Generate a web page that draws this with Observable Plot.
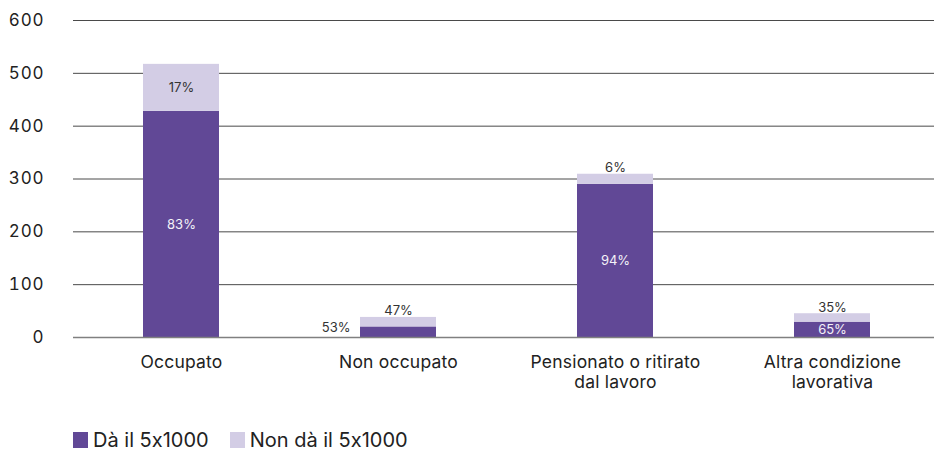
<!DOCTYPE html>
<html>
<head>
<meta charset="utf-8">
<script src="https://cdn.jsdelivr.net/npm/d3@7"></script>
<script src="https://cdn.jsdelivr.net/npm/@observablehq/plot@0.6"></script>
<style>
  body { margin: 0; background: #fff; font-family: Inter, "Noto Sans", sans-serif; color: #222; font-feature-settings: "calt" 0; }
  #chart svg { display: block; font-feature-settings: "calt" 0; }
  #chart g[aria-label="y-axis tick label"] text { letter-spacing: 0.9px; }
  #chart g[aria-label="x-axis tick label"] text { letter-spacing: 0.2px; }
  .legend { display: flex; align-items: center; margin-left: 73px; margin-top: 9px; font-size: 20px; line-height: 22px; color: #222; }
  .legend .item { display: flex; align-items: center; margin-right: 21px; }
  .legend .sw { width: 15px; height: 16px; margin-right: 5px; }
</style>
</head>
<body>
<div id="chart"></div>
<div class="legend" id="legend"></div>
<script>
const categories = ["Occupato", "Non occupato", "Pensionato o ritirato\ndal lavoro", "Altra condizione\nlavorativa"];
const daValues = [428, 20, 290, 29];
const nonDaValues = [89, 18, 19, 16];
const daPct = ["83%", "53%", "94%", "65%"];
const nonDaPct = ["17%", "47%", "6%", "35%"];
const seriesNames = ["Dà il 5x1000", "Non dà il 5x1000"];
const seriesColors = ["#614896", "#d3cde5"];
const yTicks = [0, 100, 200, 300, 400, 500, 600];

const rows = [];
categories.forEach((c, i) => {
  rows.push({cat: c, series: seriesNames[0], y1: 0, y2: daValues[i], value: daValues[i], label: daPct[i]});
  rows.push({cat: c, series: seriesNames[1], y1: daValues[i], y2: daValues[i] + nonDaValues[i], value: nonDaValues[i], label: nonDaPct[i]});
});
rows.forEach(r => r.mid = (r.y1 + r.y2) / 2);
const threshold = 25;
const inside = rows.filter(r => r.value >= threshold);
const above = rows.filter(r => r.value < threshold && r.series === seriesNames[1]);
const left = rows.filter(r => r.value < threshold && r.series === seriesNames[0]);

const chart = Plot.plot({
  width: 934,
  height: 420,
  marginLeft: 73,
  marginRight: 0,
  marginTop: 20,
  marginBottom: 83,
  style: {fontFamily: "Inter, 'Noto Sans', sans-serif", color: "#222", background: "#fff"},
  x: {domain: categories, range: [72.5, 940.5], paddingInner: 0.65, paddingOuter: 0.325, label: null},
  y: {domain: [0, 600], label: null},
  color: {domain: seriesNames, range: seriesColors},
  marks: [
    Plot.ruleY(yTicks.filter(d => d > 0), {stroke: "#4a4a4a", strokeWidth: 1}),
    Plot.barY(rows, {x: "cat", y1: "y1", y2: "y2", fill: "series"}),
    Plot.ruleY([0], {stroke: "#808080", strokeWidth: 1.5}),
    Plot.axisY({ticks: yTicks, tickSize: 0, tickPadding: 29, fontSize: 17, fill: "#222", label: null}),
    Plot.axisX({tickSize: 0, tickPadding: 16, fontSize: 17.5, fill: "#222", label: null, lineHeight: 1.15}),
    Plot.text(inside, {x: "cat", y: "mid", text: "label", fontSize: 13,
      fill: d => d.series === seriesNames[0] ? "#f4f2f8" : "#333"}),
    Plot.text(above, {x: "cat", y: "y2", text: "label", fontSize: 13, fill: "#333", lineAnchor: "bottom", dy: -2}),
    Plot.text(left, {x: "cat", y: "y2", text: "label", fontSize: 13, fill: "#333", textAnchor: "end", dx: -48, dy: 1})
  ]
});
document.getElementById("chart").append(chart);

const legend = document.getElementById("legend");
seriesNames.forEach((n, i) => {
  const item = document.createElement("div");
  item.className = "item";
  const sw = document.createElement("span");
  sw.className = "sw";
  sw.style.background = seriesColors[i];
  const t = document.createElement("span");
  t.textContent = n;
  item.append(sw, t);
  legend.append(item);
});
</script>
</body>
</html>
